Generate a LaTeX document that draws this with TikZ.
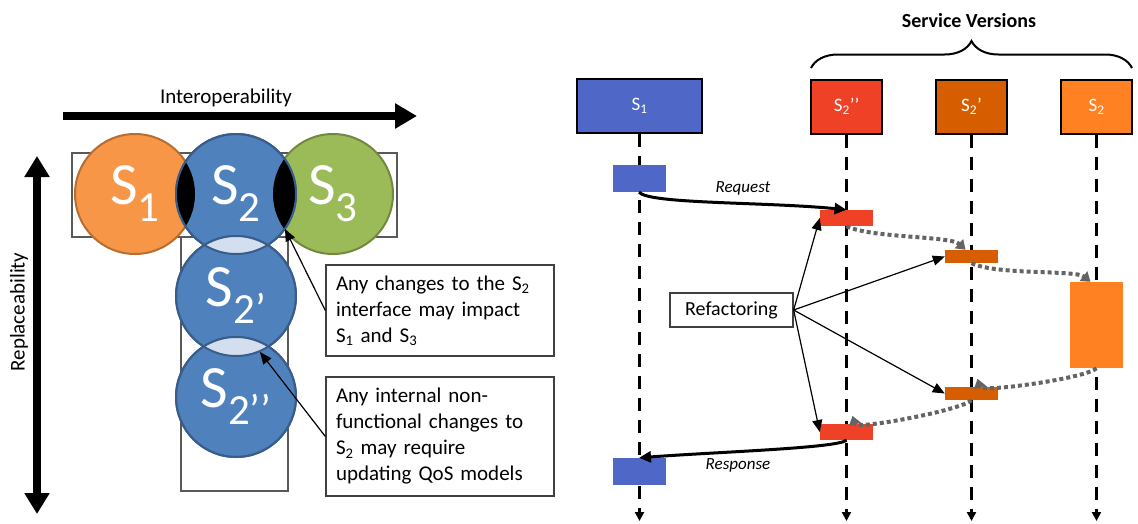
\documentclass[tikz,border=0pt]{standalone}
\usepackage{fontspec}
\setmainfont{Carlito}
\usetikzlibrary{arrows.meta,decorations.pathreplacing}

\definecolor{cOrange}{RGB}{247,150,70}
\definecolor{cOrangeDk}{RGB}{182,109,49}
\definecolor{cBlue}{RGB}{79,129,189}
\definecolor{cBlueDk}{RGB}{56,93,138}
\definecolor{cGreen}{RGB}{155,187,89}
\definecolor{cGreenDk}{RGB}{113,137,63}
\definecolor{cLens}{RGB}{211,222,238}
\definecolor{hBlue}{RGB}{79,103,199}
\definecolor{hRed}{RGB}{239,65,38}
\definecolor{hDark}{RGB}{214,94,0}
\definecolor{hOrange}{RGB}{255,129,34}
\definecolor{dotgray}{RGB}{100,100,100}

\newcommand{\bigS}[1]{{\fontsize{60}{60}\selectfont S}\raisebox{-17pt}{\fontsize{43}{43}\selectfont #1}}

\tikzset{
  svc/.style={circle,draw,minimum size=120pt,inner sep=0pt,line width=2pt,text=white},
  frame/.style={draw=black!65,line width=1.5pt,inner sep=0pt},
  note/.style={draw=black!75,line width=1.3pt,text width=208pt,inner xsep=10pt,align=left,
    font=\fontsize{21}{26}\selectfont},
  bigarrow/.style={line width=8pt},
  hdr/.style={draw,line width=2pt,text=white,minimum height=54pt,font=\fontsize{19}{19}\selectfont},
  life/.style={line width=3.5pt,dash pattern=on 13pt off 9pt,-{Triangle[length=9pt,width=9pt]}},
  call/.style={line width=3pt,-{Triangle[length=12pt,width=11pt]}},
  hop/.style={draw=dotgray,line width=4pt,dash pattern=on 4pt off 3pt,-{Triangle[length=9pt,width=12pt]}},
  refarrow/.style={line width=1.2pt,-{Triangle[length=12pt,width=10pt]}}
}

\begin{document}
\begin{tikzpicture}[x=1pt,y=-1pt]
  \useasboundingbox (0,0) rectangle (1138,523);

  % left: composition of services
  \node[frame,minimum width=325pt,minimum height=84pt] (row) at (234.5,195) {};
  \node[frame,minimum width=107pt,minimum height=254pt] (col) at (234.5,364) {};

  \coordinate (ioL) at (63,116);
  \coordinate (ioR) at (417,116);
  \draw[bigarrow,-{Triangle[length=22pt,width=24pt]}] (ioL) -- (ioR);
  \node[font=\fontsize{21}{21}\selectfont] (io) at (226,98) {Interoperability};

  \coordinate (rpT) at (37,156);
  \coordinate (rpB) at (37,514);
  \draw[bigarrow,{Triangle[length=21pt,width=24pt]}-{Triangle[length=21pt,width=24pt]}] (rpT) -- (rpB);
  \node[rotate=90,font=\fontsize{21}{21}\selectfont] (rp) at (19,312) {Replaceability};

  \begin{scope}[every node/.style={svc}]
    \node[fill=cOrange,draw=cOrangeDk] (s1)   at (135,194) {\bigS{1}};
    \node[fill=cGreen,draw=cGreenDk]   (s3)   at (333,194) {\bigS{3}};
    \node[fill=cBlue,draw=cBlueDk]     (s2)   at (236,194) {\bigS{2}};
    \node[fill=cBlue,draw=cBlueDk]     (s2p)  at (236,296) {\bigS{2’}};
    \node[fill=cBlue,draw=cBlueDk]     (s2pp) at (236,397) {\bigS{2’’}};
  \end{scope}

  \begin{scope}
    \clip (s1.center) circle (60pt);
    \fill[black] (s2.center) circle (60pt);
  \end{scope}
  \begin{scope}
    \clip (s3.center) circle (60pt);
    \fill[black] (s2.center) circle (60pt);
  \end{scope}
  \begin{scope}
    \clip (s2.center) circle (60pt);
    \fill[cLens] (s2p.center) circle (60pt);
  \end{scope}
  \begin{scope}
    \clip (s2p.center) circle (60pt);
    \fill[cLens] (s2pp.center) circle (60pt);
  \end{scope}
  \foreach \c in {s2,s2p,s2pp}
    \draw[cBlueDk,line width=2pt] (\c.center) circle (60pt);

  \node[note,minimum height=91pt] (n1) at (440,310.5)
    {Any changes to the S\textsubscript{2}\\interface may impact\\S\textsubscript{1} and S\textsubscript{3}};
  \node[note,minimum height=119pt] (n2) at (440,436.5)
    {Any internal non-\\functional changes to\\S\textsubscript{2} may require\\updating QoS models};

  \coordinate (tipA) at (285,229);
  \coordinate (tipB) at (260,352);
  \draw[refarrow] (n1.west) -- (tipA);
  \draw[refarrow] (n2.west) -- (tipB);

  % right: sequence of calls
  \node[font=\bfseries\fontsize{20}{20}\selectfont] (sv) at (969,21) {Service Versions};
  \coordinate (bl) at (811,68);
  \coordinate (br) at (1132,68);
  \draw[decorate,decoration={brace,amplitude=27pt},line width=2pt] (bl) -- (br);

  \node[hdr,fill=hBlue,minimum width=125pt]  (h1)   at (639.5,106) {S\textsubscript{1}};
  \node[hdr,fill=hRed,minimum width=71pt]    (h2pp) at (846.5,106.5) {S\textsubscript{2}’’};
  \node[hdr,fill=hDark,minimum width=71pt]   (h2p)  at (971.5,106.5) {S\textsubscript{2}’};
  \node[hdr,fill=hOrange,minimum width=71pt] (h2)   at (1096.5,106.5) {S\textsubscript{2}};

  \coordinate (bottom) at (0,521);
  \foreach \h in {h1,h2pp,h2p,h2}
    \draw[life] (\h.south) -- (\h.south |- bottom);

  \begin{scope}[every node/.style={inner sep=0pt,minimum width=53pt}]
    \node[fill=hBlue,minimum height=27pt]   (a1) at (639,178.5) {};
    \node[fill=hBlue,minimum height=27pt]   (a2) at (639,471.5) {};
    \node[fill=hRed,minimum height=16pt]    (b1) at (846.5,218) {};
    \node[fill=hRed,minimum height=16pt]    (b2) at (846.5,432) {};
    \node[fill=hDark,minimum height=13pt]   (c1) at (971.5,256.5) {};
    \node[fill=hDark,minimum height=13pt]   (c2) at (971.5,393.5) {};
    \node[fill=hOrange,minimum height=86pt] (d1) at (1096.5,325) {};
  \end{scope}

  \draw[call] (a1.south) .. controls +(10,12) and +(-80,-8) .. (b1.north);
  \node[font=\itshape\fontsize{17}{17}\selectfont] (req) at (743,188) {Request};
  \draw[call] (b2.south) .. controls +(-10,8) and +(80,-6) .. (a2.north);
  \node[font=\itshape\fontsize{17}{17}\selectfont] (resp) at (738,465) {Response};

  \draw[hop] (b1.south) .. controls +(25,12) and +(-15,-14) .. ([xshift=-6pt]c1.north);
  \draw[hop] (c1.south) .. controls +(25,12) and +(-15,-12) .. ([xshift=-6pt]d1.north);
  \draw[hop] (d1.south) .. controls +(-10,10) and +(4,14) .. ([xshift=6pt,yshift=8pt]c2.north);
  \draw[hop] (c2.south) .. controls +(-10,10) and +(4,14) .. ([xshift=6pt,yshift=8pt]b2.north);

  \node[draw=black!75,line width=1.3pt,minimum width=123pt,minimum height=34pt,
    font=\fontsize{20}{20}\selectfont] (ref) at (731.5,310) {Refactoring};
  \foreach \t in {b1.west,c1.west,c2.west,b2.west}
    \draw[refarrow] (ref.east) -- (\t);

\end{tikzpicture}
\end{document}
